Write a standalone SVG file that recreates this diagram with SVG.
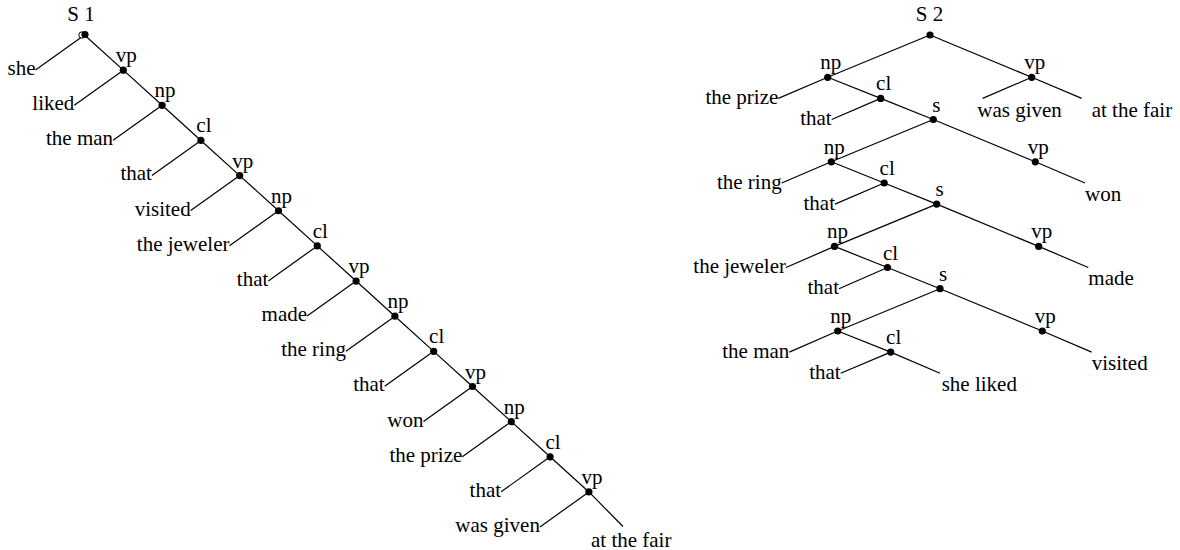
<svg xmlns="http://www.w3.org/2000/svg" width="1180" height="550" viewBox="0 0 1180 550">
<style>
text{font-family:"Liberation Serif","Times New Roman",serif;font-size:21px;fill:#000}
.lab{text-anchor:middle}
.l{text-anchor:end}
.r{text-anchor:start}
.e{stroke:#000;stroke-width:1.2;fill:none}
.d{fill:#000}
</style>
<rect width="1180" height="550" fill="#fff"/>
<g id="connectors">
<polyline class="e" points="84.5,35 123.3,70.15 162.1,105.3 200.9,140.45 239.7,175.6 278.5,210.75 317.3,245.9 356.1,281.05 394.9,316.2 433.7,351.35 472.5,386.5 511.3,421.65 550.1,456.8 588.9,491.95 623,526.5"/>
<path class="e" d="M84.5,35L35.5,70 M123.3,70.15L74.3,105.15 M162.1,105.3L113.1,140.3 M200.9,140.45L151.9,175.45 M239.7,175.6L190.7,210.6 M278.5,210.75L229.5,245.75 M317.3,245.9L268.3,280.9 M356.1,281.05L307.1,316.05 M394.9,316.2L345.9,351.2 M433.7,351.35L384.7,386.35 M472.5,386.5L423.5,421.5 M511.3,421.65L462.3,456.65 M550.1,456.8L501.1,491.8 M588.9,491.95L539.9,526.95"/>
<path class="e" d="M930,35L827.7,77.3 M930,35L1031.7,77.3 M1031.7,77.3L982.7,98.4 M1031.7,77.3L1081.7,98.4 M827.7,77.3L778.3,98.4 M827.7,77.3L880.7,98.4 M880.7,98.4L831.7,119.5 M880.7,98.4L933.3,119.5 M933.3,119.5L831.3,161.8 M933.3,119.5L1035.3,161.8 M1035.3,161.8L1085,183 M831.3,161.8L781.7,183 M831.3,161.8L884.2,183 M884.2,183L835,204.1 M884.2,183L936.7,204.1 M936.7,204.1L834.5,246.4 M936.7,204.1L1038.7,246.4 M1038.7,246.4L1088.3,267.5 M834.5,246.4L786,267.5 M834.5,246.4L887.5,267.5 M887.5,267.5L839,288.7 M887.5,267.5L940,288.7 M940,288.7L837.7,331 M940,288.7L1042.3,331 M1042.3,331L1091.7,352.1 M837.7,331L789.3,352.1 M837.7,331L890.7,352.1 M890.7,352.1L840.7,373.2 M890.7,352.1L940,373.2"/>
</g>
<g id="s1-root"><circle cx="82" cy="35" r="3.2" fill="#fff" stroke="#000" stroke-width="1"/><circle class="d" cx="85" cy="34.5" r="3.6"/><text class="lab" x="81" y="21">S 1</text></g>
<g id="s1-vp1"><circle class="d" cx="123.3" cy="70.15" r="3.6"/><text class="lab" x="126.3" y="62.15">vp</text></g>
<g id="s1-np1"><circle class="d" cx="162.1" cy="105.3" r="3.6"/><text class="lab" x="165.1" y="97.3">np</text></g>
<g id="s1-cl1"><circle class="d" cx="200.9" cy="140.45" r="3.6"/><text class="lab" x="203.9" y="132.45">cl</text></g>
<g id="s1-vp2"><circle class="d" cx="239.7" cy="175.6" r="3.6"/><text class="lab" x="242.7" y="167.6">vp</text></g>
<g id="s1-np2"><circle class="d" cx="278.5" cy="210.75" r="3.6"/><text class="lab" x="281.5" y="202.75">np</text></g>
<g id="s1-cl2"><circle class="d" cx="317.3" cy="245.9" r="3.6"/><text class="lab" x="320.3" y="237.9">cl</text></g>
<g id="s1-vp3"><circle class="d" cx="356.1" cy="281.05" r="3.6"/><text class="lab" x="359.1" y="273.05">vp</text></g>
<g id="s1-np3"><circle class="d" cx="394.9" cy="316.2" r="3.6"/><text class="lab" x="397.9" y="308.2">np</text></g>
<g id="s1-cl3"><circle class="d" cx="433.7" cy="351.35" r="3.6"/><text class="lab" x="436.7" y="343.35">cl</text></g>
<g id="s1-vp4"><circle class="d" cx="472.5" cy="386.5" r="3.6"/><text class="lab" x="475.5" y="378.5">vp</text></g>
<g id="s1-np4"><circle class="d" cx="511.3" cy="421.65" r="3.6"/><text class="lab" x="514.3" y="413.65">np</text></g>
<g id="s1-cl4"><circle class="d" cx="550.1" cy="456.8" r="3.6"/><text class="lab" x="553.1" y="448.8">cl</text></g>
<g id="s1-vp5"><circle class="d" cx="588.9" cy="491.95" r="3.6"/><text class="lab" x="591.9" y="483.95">vp</text></g>
<g id="s1-leaves">
<text class="l" x="35.5" y="75">she</text>
<text class="l" x="74.3" y="110.15">liked</text>
<text class="l" x="113.1" y="145.3">the man</text>
<text class="l" x="151.9" y="180.45">that</text>
<text class="l" x="190.7" y="215.6">visited</text>
<text class="l" x="229.5" y="250.75">the jeweler</text>
<text class="l" x="268.3" y="285.9">that</text>
<text class="l" x="307.1" y="321.05">made</text>
<text class="l" x="345.9" y="356.2">the ring</text>
<text class="l" x="384.7" y="391.35">that</text>
<text class="l" x="423.5" y="426.5">won</text>
<text class="l" x="462.3" y="461.65">the prize</text>
<text class="l" x="501.1" y="496.8">that</text>
<text class="l" x="539.9" y="531.95">was given</text>
<text class="r" x="591" y="546.5">at the fair</text>
</g>
<g id="s2-root"><circle class="d" cx="930" cy="35" r="3.6"/><text class="lab" x="929.5" y="21">S 2</text></g>
<g id="s2-np1"><circle class="d" cx="827.7" cy="77.3" r="3.6"/><text class="lab" x="830.7" y="69.3">np</text></g>
<g id="s2-vp1"><circle class="d" cx="1031.7" cy="77.3" r="3.6"/><text class="lab" x="1034.7" y="69.3">vp</text></g>
<g id="s2-cl1"><circle class="d" cx="880.7" cy="98.4" r="3.6"/><text class="lab" x="883.7" y="90.4">cl</text></g>
<g id="s2-s1"><circle class="d" cx="933.3" cy="119.5" r="3.6"/><text class="lab" x="936.3" y="111.5">s</text></g>
<g id="s2-np2"><circle class="d" cx="831.3" cy="161.8" r="3.6"/><text class="lab" x="834.3" y="153.8">np</text></g>
<g id="s2-vp2"><circle class="d" cx="1035.3" cy="161.8" r="3.6"/><text class="lab" x="1038.3" y="153.8">vp</text></g>
<g id="s2-cl2"><circle class="d" cx="884.2" cy="183" r="3.6"/><text class="lab" x="887.2" y="175">cl</text></g>
<g id="s2-s2"><circle class="d" cx="936.7" cy="204.1" r="3.6"/><text class="lab" x="939.7" y="196.1">s</text></g>
<g id="s2-np3"><circle class="d" cx="834.5" cy="246.4" r="3.6"/><text class="lab" x="837.5" y="238.4">np</text></g>
<g id="s2-vp3"><circle class="d" cx="1038.7" cy="246.4" r="3.6"/><text class="lab" x="1041.7" y="238.4">vp</text></g>
<g id="s2-cl3"><circle class="d" cx="887.5" cy="267.5" r="3.6"/><text class="lab" x="890.5" y="259.5">cl</text></g>
<g id="s2-s3"><circle class="d" cx="940" cy="288.7" r="3.6"/><text class="lab" x="943" y="280.7">s</text></g>
<g id="s2-np4"><circle class="d" cx="837.7" cy="331" r="3.6"/><text class="lab" x="840.7" y="323">np</text></g>
<g id="s2-vp4"><circle class="d" cx="1042.3" cy="331" r="3.6"/><text class="lab" x="1045.3" y="323">vp</text></g>
<g id="s2-cl4"><circle class="d" cx="890.7" cy="352.1" r="3.6"/><text class="lab" x="893.7" y="344.1">cl</text></g>
<g id="s2-leaves">
<text class="l" x="778.3" y="103.9">the prize</text>
<text class="l" x="831.7" y="125">that</text>
<text class="r" x="977.3" y="116.7">was given</text>
<text class="r" x="1091.7" y="116.7">at the fair</text>
<text class="r" x="1085" y="200.5">won</text>
<text class="l" x="781.7" y="188.5">the ring</text>
<text class="l" x="835" y="209.6">that</text>
<text class="r" x="1088.3" y="285">made</text>
<text class="l" x="786" y="273">the jeweler</text>
<text class="l" x="839" y="294.2">that</text>
<text class="r" x="1091.7" y="369.5">visited</text>
<text class="l" x="789.3" y="357.6">the man</text>
<text class="l" x="840.7" y="378.7">that</text>
<text class="r" x="941.7" y="391">she liked</text>
</g>
</svg>
